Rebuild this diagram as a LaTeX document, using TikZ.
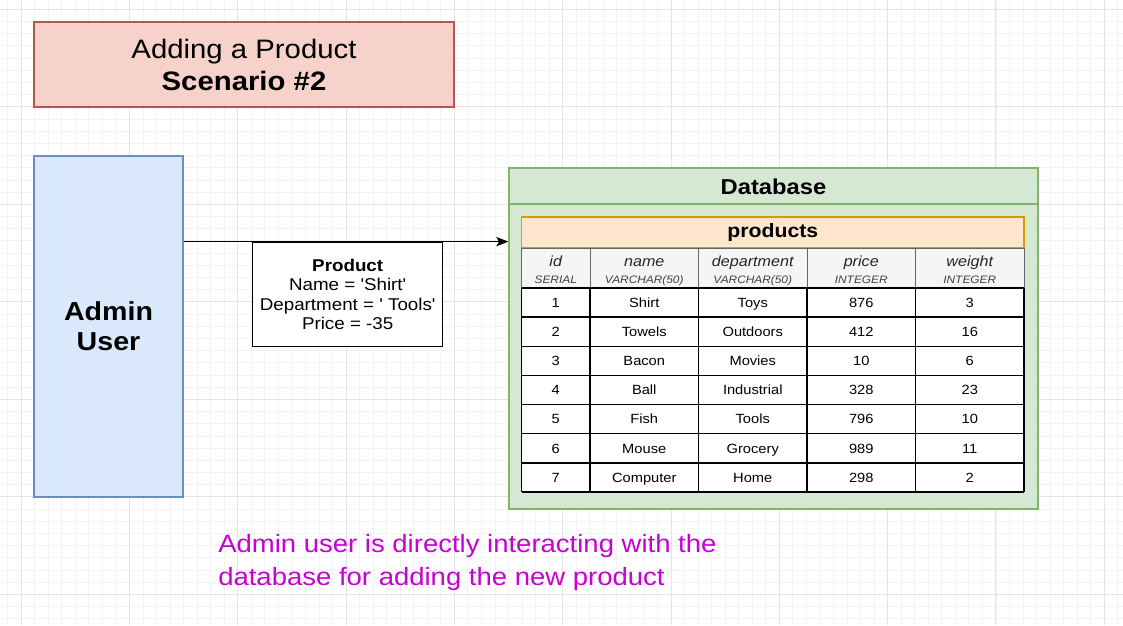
\documentclass[tikz,border=0pt]{standalone}
\usepackage{fontspec}
\setmainfont{Liberation Sans}[FakeStretch=1.1, Ligatures=TeXOff]
\usetikzlibrary{arrows.meta,positioning}

\definecolor{titlefill}{HTML}{F6D2CB}
\definecolor{titleline}{HTML}{B85450}
\definecolor{userfill}{HTML}{DAE8FC}
\definecolor{userline}{HTML}{6C8EBF}
\definecolor{dbfill}{HTML}{D5E8D4}
\definecolor{dbline}{HTML}{82B366}
\definecolor{tblfill}{HTML}{FFE6CC}
\definecolor{tblline}{HTML}{D79B00}
\definecolor{headfill}{HTML}{F5F5F5}
\definecolor{headline}{HTML}{666666}
\definecolor{notecol}{HTML}{C800D6}
\definecolor{gridA}{HTML}{F3F3F3}
\definecolor{gridB}{HTML}{E4E4E4}

\begin{document}
\begin{tikzpicture}[x=0.75pt, y=-0.75pt, >={Stealth[length=9pt,width=7pt,inset=2pt]},
    titlebox/.style={draw=titleline, fill=titlefill, line width=0.9pt, align=center,
        font=\fontsize{20}{24}\selectfont, minimum width=315pt, minimum height=63.75pt},
    userbox/.style={draw=userline, fill=userfill, line width=0.9pt, align=center,
        font=\bfseries\fontsize{19.5}{22.5}\selectfont, minimum width=111.75pt, minimum height=255.75pt},
    objbox/.style={draw, fill=white, line width=0.9pt, align=center,
        font=\fontsize{12.8}{14.6}\selectfont, minimum width=142.5pt, minimum height=78.4pt},
    dbbox/.style={draw=dbline, fill=dbfill, line width=1pt, minimum width=396.75pt, minimum height=255.75pt},
    tblhead/.style={draw=tblline, fill=tblfill, line width=0.9pt,
        font=\bfseries\fontsize{14.5}{17}\selectfont, minimum width=376.9pt, minimum height=23.25pt},
    headcell/.style={draw=headline, fill=headfill, line width=0.6pt},
    colname/.style={inner sep=0pt, font=\itshape\fontsize{11}{13}\selectfont, text=black!85},
    coltype/.style={inner sep=0pt, font=\itshape\fontsize{8.1}{10}\selectfont, text=black!75},
    cell/.style={inner sep=0pt, font=\fontsize{10}{12}\selectfont},
    cellline/.style={line width=1.1pt},
    flow/.style={->, line width=0.8pt},
    note/.style={inner sep=0pt, text=notecol, align=left, font=\fontsize{18.75}{24.75}\selectfont}]

    \useasboundingbox (0,0) rectangle (1123,625);
    \fill[white] (0,0) rectangle (1123,625);

    % canvas grid
    \foreach \i in {0,...,82}
        \draw[gridA, line width=0.5pt] ({7.46+13.54*\i},0) -- ({7.46+13.54*\i},625);
    \foreach \j in {0,...,50}
        \draw[gridA, line width=0.5pt] (0,{9.2+12.19*\j}) -- (1123,{9.2+12.19*\j});
    \foreach \i in {0,...,10}
        \draw[gridB, line width=0.6pt] ({21+108.32*\i},0) -- ({21+108.32*\i},625);
    \foreach \j in {0,...,6}
        \draw[gridB, line width=0.6pt] (0,{9.2+97.5*\j}) -- (1123,{9.2+97.5*\j});

    \node[titlebox] (title) at (244,64.5) {Adding a Product\\\textbf{Scenario \#2}};
    \node[userbox] (admin) at (108.5,326.5) {Admin\\User};

    % database with the products table
    \node[dbbox] (db) at (773.5,338.5) {};
    \node[font=\bfseries\fontsize{16.2}{19}\selectfont, inner sep=0pt] (dbtitle) at (773.5,187) {Database};
    \draw[dbline, line width=1pt] (db.west |- 0,204) -- (db.east |- 0,204);
    \node[tblhead] (tbl) at (772.75,232.5) {products};

    \foreach \xa/\xb/\cn/\ct [count=\ci] in {521.5/590/id/SERIAL, 590/698.5/name/VARCHAR(50),
            698.5/807/department/VARCHAR(50), 807/915.5/price/INTEGER, 915.5/1024/weight/INTEGER} {
        \draw[headcell] (\xa,248) rectangle (\xb,288);
        \node[colname, anchor=base] (hn\ci) at ({(\xa+\xb)/2},266) {\cn};
        \node[coltype, anchor=base] (ht\ci) at ({(\xa+\xb)/2},283) {\ct};
    }

    \fill[white] (521.5,288) rectangle (1024,492);
    \foreach \a/\b/\c/\d/\e [count=\r] in {1/Shirt/Toys/876/3, 2/Towels/Outdoors/412/16,
            3/Bacon/Movies/10/6, 4/Ball/Industrial/328/23, 5/Fish/Tools/796/10,
            6/Mouse/Grocery/989/11, 7/Computer/Home/298/2} {
        \pgfmathsetmacro\ry{288+29.14*(\r-0.5)+4.8}
        \node[cell, anchor=base] (r\r-1) at (555.75,\ry) {\a};
        \node[cell, anchor=base] (r\r-2) at (644.25,\ry) {\b};
        \node[cell, anchor=base] (r\r-3) at (752.75,\ry) {\c};
        \node[cell, anchor=base] (r\r-4) at (861.25,\ry) {\d};
        \node[cell, anchor=base] (r\r-5) at (969.75,\ry) {\e};
    }
    \foreach \k in {0,...,7}
        \draw[cellline] (521.5,{288+29.14*\k}) -- (1024,{288+29.14*\k});
    \foreach \xv in {521.5,590,698.5,807,915.5,1024}
        \draw[cellline] (\xv,288) -- (\xv,492);

    % what the admin sends
    \node[objbox] (obj) at (347.7,294.5) {\textbf{Product}\\Name = 'Shirt'\\Department = ' Tools'\\Price = -35};
    \draw[flow] (admin.east |- obj.north) -- (db.west |- obj.north);

    \node[note, anchor=north west] (note) at (218,534.5)
        {Admin user is directly interacting with the\\database for adding the new product};
\end{tikzpicture}
\end{document}
